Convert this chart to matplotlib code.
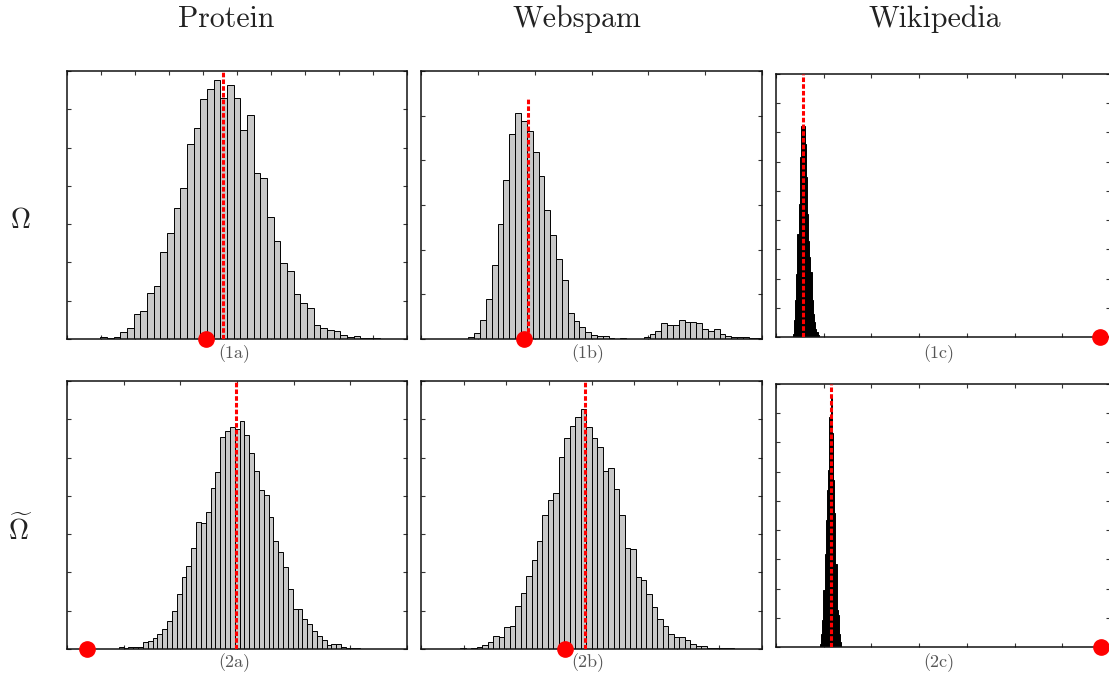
import numpy as np
import matplotlib
matplotlib.use("Agg")
import matplotlib.pyplot as plt

plt.rcParams['mathtext.fontset'] = 'cm'
plt.rcParams['axes.formatter.use_mathtext'] = True

# ---------------- data ----------------
col_titles = ["Protein", "Webspam", "Wikipedia"]
row_labels = [r"$\Omega$", r"$\widetilde{\Omega}$"]
panel_tags = ["(1a)", "(1b)", "(1c)", "(2a)", "(2b)", "(2c)"]

# histogram frequencies (arbitrary units), first bin edge and bin width (x units)
heights_1a = [1, 6, 3, 6, 21, 34, 75, 83, 137, 160, 262, 318, 393, 454, 585, 633,
              721, 752, 777, 723, 762, 724, 628, 673, 498, 484, 366, 293, 227, 203,
              135, 107, 92, 43, 33, 26, 24, 12, 5, 10, 2, 2, 3, 1, 1, 1, 1]
start_1a, width_1a = 0.784, 0.196

heights_1b = [6, 18, 57, 119, 221, 344, 478, 616, 678, 655, 626, 561, 490, 387, 313,
              240, 178, 79, 54, 36, 20, 12, 9, 9, 3, 0, 3, 0, 0, 0, 6, 15, 23, 48,
              42, 42, 58, 52, 52, 48, 31, 25, 30, 15, 9, 5, 5, 6, 3, 3]
start_1b, width_1b = 0.834, 0.1028

heights_1c = [10, 50, 110, 190, 310, 400, 540, 636, 636, 636, 580, 480, 370, 290,
              240, 195, 110, 70, 45, 25, 15, 5]
start_1c, width_1c = 0.348, 0.025

heights_2a = [6, 3, 6, 6, 6, 20, 25, 33, 45, 61, 83, 113, 164, 216, 250, 302, 380,
              378, 412, 484, 531, 636, 656, 666, 660, 686, 643, 588, 536, 477, 463,
              395, 325, 291, 245, 180, 120, 120, 89, 75, 53, 38, 26, 12, 16, 14, 6,
              3, 2, 2]
start_2a, width_2a = 0.912, 0.0853

heights_2b = [2, 1, 2, 5, 12, 20, 39, 36, 66, 69, 128, 168, 219, 266, 323, 404, 448,
              469, 577, 634, 670, 698, 720, 668, 633, 608, 536, 544, 481, 403, 302,
              301, 216, 207, 165, 125, 90, 68, 46, 36, 36, 26, 15, 9, 8, 4, 2, 2, 2, 2]
start_2b, width_2b = 0.924, 0.1284

heights_2c = [10, 40, 80, 170, 280, 380, 470, 530, 690, 756, 640, 500, 400, 250,
              110, 95, 40, 15]
start_2c, width_2c = 0.920, 0.025

# observed statistic (dashed line) and reference value (dot)
mean_x = [4.58, 1.879, 0.571, 2.99, 3.85, 1.15]
dot_x = [4.08, 1.82, 6.79, 0.353, 3.38, 6.81]

# ---------------- layout ----------------
W, H = 1109, 675
fig = plt.figure(figsize=(W / 100, H / 100), dpi=100)


def make_axes(l, r, t, b):
    return fig.add_axes([l / W, 1 - b / H, (r - l) / W, (b - t) / H])


boxes = [(67, 407, 71, 339), (421, 762, 71, 339), (776, 1110, 74, 337),
         (67, 407, 381, 649), (421, 762, 381, 649), (776, 1110, 384, 647)]
hist = [(heights_1a, start_1a, width_1a), (heights_1b, start_1b, width_1b),
        (heights_1c, start_1c, width_1c), (heights_2a, start_2a, width_2a),
        (heights_2b, start_2b, width_2b), (heights_2c, start_2c, width_2c)]
xint = [10, 6, 7, 6, 8, 7]
yint = [7, 6, 9, 7, 7, 9]
ytop = [805, 805, 791, 805, 805, 788]
line_top = [1.0, 0.9, 1.0, 1.0, 1.0, 1.0]
face = ['#c8c8c8', '#c8c8c8', 'black', '#c8c8c8', '#c8c8c8', 'black']

for i in range(6):
    ax = make_axes(*boxes[i])
    h, s, w = hist[i]
    xs = s + w * np.arange(len(h))
    ax.bar(xs, h, width=w, align='edge', color=face[i], edgecolor='black',
           linewidth=0.7, zorder=2)
    ax.set_xlim(0, xint[i])
    ax.set_ylim(0, ytop[i])
    ax.set_xticks(np.arange(xint[i] + 1))
    ax.set_yticks(np.linspace(0, ytop[i], yint[i] + 1))
    ax.tick_params(direction='in', top=True, right=True, labelbottom=False,
                   labelleft=False, length=3, width=0.8, color='#333333')
    for sp in ax.spines.values():
        sp.set_linewidth(1.1)
        sp.set_color('#111111')
    ax.axvline(mean_x[i], ymin=0, ymax=line_top[i], color='red', lw=2.2,
               ls=(0, (1.5, 0.7)), zorder=3)
    ax.plot([dot_x[i]], [0], 'o', color='red', ms=11, clip_on=False, zorder=10)

# panel tags
tag_x = [234, 588, 939]
tag_y = [354, 663]
for i, t in enumerate(panel_tags):
    fig.text(tag_x[i % 3] / W, 1 - tag_y[i // 3] / H, t, ha='center', va='center',
             fontsize=13, color='#555555', family='cmr10')

# column titles
title_x = [226, 577, 935]
for x, t in zip(title_x, col_titles):
    fig.text(x / W, 1 - 19 / H, t, ha='center', va='center', fontsize=21.5,
             family='cmr10', color='#222222')

# row labels
for y, t in zip([220, 530], row_labels):
    fig.text(20 / W, 1 - y / H, t, ha='center', va='center', fontsize=20,
             color='#222222')

fig.savefig("out.png", dpi=100)
